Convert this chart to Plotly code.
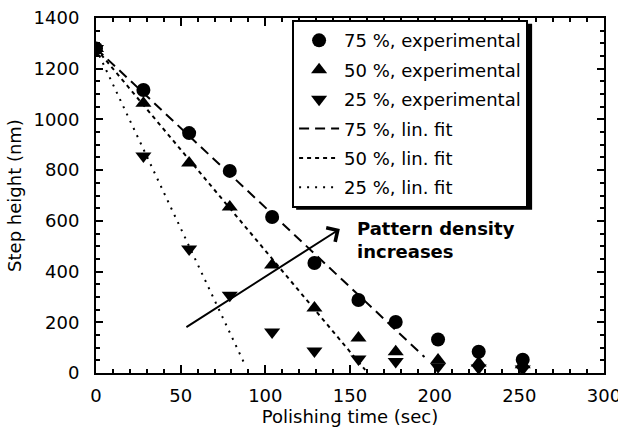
import plotly.graph_objects as go

# ---- data ----
polish_time = [0, 28, 55, 79, 104, 129, 155, 177, 202, 226, 252]
height_75 = [1280, 1116, 946, 797, 615, 434, 288, 201, 132, 84, 52]
height_50 = [1280, 1064, 828, 655, 426, 256, 138, 84, 51, 39, 33]
height_25 = [1280, 856, 489, 307, 162, 87, 55, 45, 25, 20, 16]

fit_time_75 = [0, 194]
fit_height_75 = [1280, 63]
fit_time_50 = [0, 159]
fit_height_50 = [1280, 12]
fit_time_25 = [0, 88]
fit_height_25 = [1280, 32]

x_ticks = [0, 50, 100, 150, 200, 250, 300]
y_ticks = [0, 200, 400, 600, 800, 1000, 1200, 1400]

FONT = "DejaVu Sans"
BLACK = "black"

fig = go.Figure()

fig.add_trace(go.Scatter(x=polish_time, y=height_75, mode="markers",
                         name="75 %, experimental", legendgroup="a",
                         marker=dict(symbol="circle", size=14, color=BLACK)))
fig.add_trace(go.Scatter(x=polish_time, y=height_50, mode="markers",
                         name="50 %, experimental", legendgroup="b",
                         marker=dict(symbol="triangle-up", size=14, color=BLACK)))
fig.add_trace(go.Scatter(x=polish_time, y=height_25, mode="markers",
                         name="25 %, experimental", legendgroup="c",
                         marker=dict(symbol="triangle-down", size=14, color=BLACK)))
fig.add_trace(go.Scatter(x=fit_time_75, y=fit_height_75, mode="lines",
                         name="75 %, lin. fit", legendgroup="d",
                         line=dict(color=BLACK, width=2, dash="10px,6px")))
fig.add_trace(go.Scatter(x=fit_time_50, y=fit_height_50, mode="lines",
                         name="50 %, lin. fit", legendgroup="e",
                         line=dict(color=BLACK, width=2, dash="4px,4px")))
fig.add_trace(go.Scatter(x=fit_time_25, y=fit_height_25, mode="lines",
                         name="25 %, lin. fit", legendgroup="f",
                         line=dict(color=BLACK, width=2, dash="2px,6px")))

# arrow "Pattern density increases"
fig.add_annotation(x=144, y=568, ax=52.5, ay=177, xref="x", yref="y",
                   axref="x", ayref="y", showarrow=True, arrowhead=4,
                   arrowsize=1.6, arrowwidth=2, arrowcolor=BLACK, text="")
fig.add_annotation(x=153, y=524, xref="x", yref="y", xanchor="left",
                   yanchor="middle", align="left", showarrow=False,
                   text="<b>Pattern density<br>increases</b>",
                   font=dict(family=FONT, size=18, color=BLACK))

# legend drop shadow (paper coordinates)
fig.add_shape(type="rect", xref="paper", yref="paper",
              x0=0.394, x1=0.8585, y0=0.46, y1=0.984,
              fillcolor=BLACK, line=dict(width=0), layer="above")

axis_common = dict(showline=True, linewidth=2, linecolor=BLACK, mirror="ticks",
                   ticks="inside", tickwidth=1.5, tickcolor=BLACK,
                   showgrid=False, zeroline=False, automargin=False,
                   ticklabeloverflow="allow",
                   tickfont=dict(family=FONT, size=18, color=BLACK))

fig.update_xaxes(range=[0, 300], tickvals=x_ticks, ticklen=8,
                 minor=dict(dtick=10, ticks="inside", ticklen=4, tickwidth=1.5,
                            tickcolor=BLACK, showgrid=False),
                 ticklabelstandoff=5,
                 title=dict(text="Polishing time (sec)", standoff=0,
                            font=dict(family=FONT, size=18, color=BLACK)),
                 **axis_common)
fig.update_yaxes(range=[0, 1400], tickvals=y_ticks, ticklen=7,
                 minor=dict(dtick=50, ticks="inside", ticklen=4, tickwidth=1.5,
                            tickcolor=BLACK, showgrid=False),
                 ticklabelstandoff=11,
                 title=dict(text="Step height (nm)\u00a0\u00a0\u00a0\u00a0", standoff=7,
                            font=dict(family=FONT, size=18, color=BLACK)),
                 **axis_common)

fig.update_layout(
    width=618, height=427,
    margin=dict(l=96, r=14, t=18, b=54),
    paper_bgcolor="white", plot_bgcolor="white",
    font=dict(family=FONT, color=BLACK),
    showlegend=True,
    legend=dict(x=0.386, y=0.994, xanchor="left", yanchor="top",
                bgcolor="white", bordercolor=BLACK, borderwidth=2,
                tracegroupgap=3, traceorder="grouped", itemwidth=40,
                font=dict(family=FONT, size=18, color=BLACK)),
)

# remove the browser's default page margin so the figure fills the window
fig.write_html("out.html",
               config={"displayModeBar": False},
               post_script="document.body.style.margin='0';"
                           "document.body.style.overflow='hidden';")
